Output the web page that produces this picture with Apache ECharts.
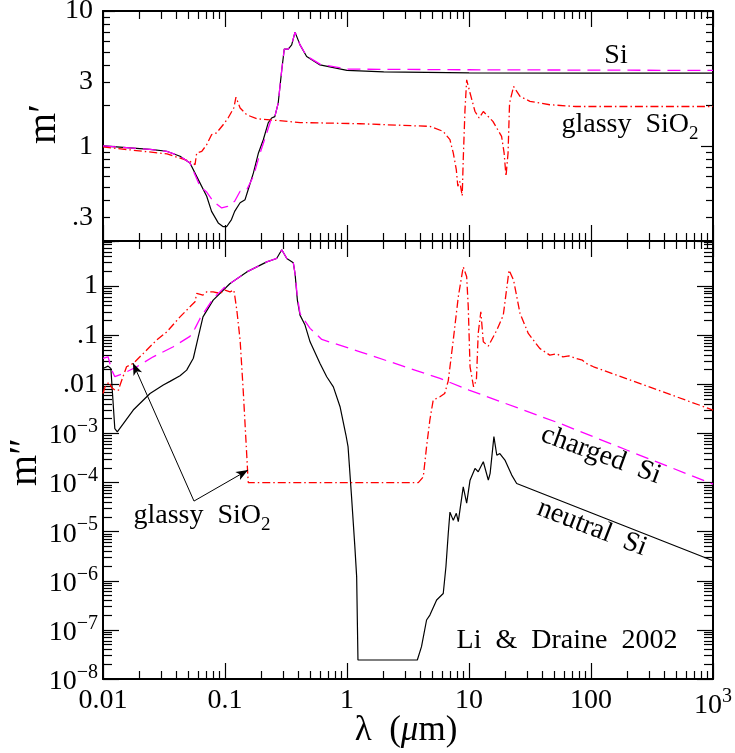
<!DOCTYPE html>
<html>
<head>
<meta charset="utf-8">
<script src="https://cdn.jsdelivr.net/npm/echarts@6/dist/echarts.min.js"></script>
<style>
  html, body { margin: 0; padding: 0; background: #fff; }
  #chart { width: 735px; height: 753px; }
</style>
</head>
<body>
<div id="chart"></div>
<script>
// ---- data: [lambda (um), value] ----
// upper panel: real part m'
var neutralSiRe = [[0.01,1.01],[0.0243,0.95],[0.0333,0.92],[0.0428,0.845],[0.0516,0.754],[0.0604,0.568],[0.0708,0.428],[0.0776,0.331],[0.088,0.272],[0.0967,0.255],[0.103,0.255],[0.113,0.288],[0.12,0.331],[0.133,0.383],[0.146,0.404],[0.155,0.48],[0.171,0.637],[0.188,0.894],[0.206,1.12],[0.226,1.49],[0.241,1.62],[0.256,1.66],[0.273,2.09],[0.292,3.68],[0.306,5.23],[0.33,5.23],[0.352,5.62],[0.375,6.98],[0.412,5.62],[0.467,4.61],[0.601,4.0],[1.0,3.64],[2,3.55],[10,3.49],[100,3.48],[1000,3.48]];
var chargedSiRe = [[0.01,1.01],[0.0243,0.95],[0.0333,0.92],[0.0428,0.845],[0.0516,0.754],[0.0624,0.507],[0.0708,0.46],[0.08,0.393],[0.094,0.351],[0.105,0.36],[0.12,0.393],[0.133,0.466],[0.151,0.48],[0.171,0.601],[0.194,0.894],[0.22,1.256],[0.241,1.62],[0.256,1.66],[0.273,2.09],[0.292,3.68],[0.306,5.23],[0.33,5.23],[0.352,5.62],[0.375,6.98],[0.412,5.62],[0.467,4.65],[0.601,4.05],[1.0,3.72],[10,3.68],[1000,3.64]];
var glassRe = [[0.01,0.99],[0.0335,0.88],[0.0516,0.775],[0.0568,0.733],[0.0586,0.894],[0.0645,0.918],[0.0708,1.03],[0.0776,1.22],[0.085,1.256],[0.097,1.45],[0.106,1.62],[0.1136,1.81],[0.118,1.92],[0.123,2.31],[0.133,1.92],[0.151,1.71],[0.182,1.6],[0.234,1.57],[0.412,1.5],[1.28,1.47],[4.78,1.405],[6.15,1.29],[6.98,1.12],[7.43,0.894],[7.87,0.673],[8.1,0.507],[8.4,0.552],[8.8,0.43],[8.97,0.798],[9.27,1.86],[9.57,3.1],[10.2,2.48],[11.2,1.81],[12.1,1.62],[13.1,1.81],[15.7,1.53],[18.5,1.185],[19.4,0.894],[20.1,0.601],[20.9,0.894],[21.5,2.09],[23.2,2.77],[26.2,2.34],[31.6,2.15],[45.9,2.03],[75,1.97],[1000,1.97]];

// lower panel: imaginary part m''
var neutralSiIm = [[0.01,0.0211],[0.011,0.0235],[0.0116,0.0211],[0.0125,0.00125],[0.0131,0.00108],[0.0177,0.003],[0.0243,0.0065],[0.0312,0.0097],[0.0354,0.0115],[0.0428,0.015],[0.0485,0.0195],[0.055,0.034],[0.0604,0.093],[0.066,0.237],[0.08,0.519],[0.11,1.13],[0.151,1.95],[0.22,3.12],[0.265,3.66],[0.292,5.5],[0.321,3.66],[0.363,2.98],[0.375,1.81],[0.392,0.519],[0.412,0.257],[0.453,0.161],[0.498,0.0735],[0.601,0.0267],[0.682,0.01426],[0.773,0.0089],[0.877,0.0035],[0.98,9.3e-4],[1.02,5.4e-4],[1.09,5.1e-5],[1.16,4.9e-6],[1.2,1.2e-6],[1.23,2.44e-8],[3.77,2.44e-8],[4.08,4.55e-8],[4.49,1.59e-7],[4.78,2.0e-7],[5.43,4.06e-7],[6.15,5.5e-7],[6.47,1.93e-6],[6.76,9.2e-6],[6.98,2.5e-5],[7.43,1.7e-5],[7.87,2.36e-5],[8.17,1.6e-5],[8.97,8.2e-5],[9.57,3.8e-5],[10.2,1.12e-4],[11.2,1.94e-4],[11.9,1.66e-4],[13.1,2.65e-4],[14.4,1.12e-4],[14.9,1.54e-4],[16.0,8.6e-4],[16.9,3.6e-4],[17.9,3.9e-4],[19.7,2.87e-4],[22.4,1.42e-4],[24.6,9.6e-5],[1000,2.56e-6]];
var chargedSiIm = [[0.01,0.0337],[0.011,0.0364],[0.0118,0.0195],[0.0125,0.0143],[0.0147,0.0167],[0.0189,0.0228],[0.0258,0.0364],[0.0377,0.0582],[0.0516,0.095],[0.0568,0.138],[0.0624,0.22],[0.08,0.56],[0.097,0.9],[0.11,1.13],[0.151,1.95],[0.22,3.12],[0.265,3.66],[0.292,5.5],[0.321,3.66],[0.363,2.98],[0.375,1.81],[0.392,0.6],[0.412,0.278],[0.438,0.22],[0.498,0.138],[0.621,0.0822],[1.28,0.046],[5.78,0.0132],[10,0.00764],[55.7,0.0016],[196,4.6e-4],[1000,9.3e-5]];
var glassIm = [[0.01,0.0065],[0.0104,0.0089],[0.0112,0.0112],[0.0118,0.0085],[0.0126,0.0076],[0.0134,0.0076],[0.0138,0.0097],[0.0156,0.0228],[0.0177,0.0267],[0.0214,0.0427],[0.0275,0.0796],[0.0333,0.117],[0.0428,0.237],[0.0516,0.379],[0.0568,0.479],[0.0586,0.71],[0.066,0.656],[0.0708,0.766],[0.08,0.766],[0.091,0.71],[0.1,0.83],[0.11,0.766],[0.118,0.83],[0.12,0.656],[0.125,0.325],[0.133,0.0796],[0.141,0.0076],[0.151,3.36e-4],[0.153,1.8e-4],[0.155,1.0e-4],[3.84,1.0e-4],[4.22,1.31e-4],[4.49,5.4e-4],[4.78,0.0019],[5.09,0.0048],[5.78,0.0056],[6.32,0.0065],[6.76,0.0118],[7.43,0.0796],[8.17,0.605],[8.97,2.47],[9.27,2.68],[9.57,1.55],[9.86,0.379],[10.2,0.0228],[10.9,0.0089],[11.5,0.0122],[11.9,0.109],[12.5,0.3],[13.1,0.0735],[14.4,0.0601],[16.9,0.127],[19.1,0.257],[21.3,2.12],[23.2,1.32],[26.2,0.278],[30.6,0.109],[38.0,0.054],[45.9,0.0394],[52,0.042],[58.8,0.0364],[66,0.038],[75.5,0.0337],[85,0.031],[91.3,0.0267],[105,0.0228],[1000,0.003]];

// annotation arrows ("glassy SiO2" label -> curve), data coords
var arrowFrom = [0.0557, 4.2e-5];
var arrowTips = [[0.0176, 0.0271], [0.1545, 1.8e-4]];

// ---- tick labels ----
var xLabelVals = [0.01, 0.1, 1, 10, 100, 1000];
var xLabels = ['0.01', '0.1', '1', '10', '100', '{b|10}{s|3}'];
var yTopLabelVals = [0.3, 1, 3, 10];
var yTopLabels = ['.3', '1', '3', '10'];
var yBotLabelVals = [1e-8, 1e-7, 1e-6, 1e-5, 1e-4, 1e-3, 0.01, 0.1, 1];
var yBotLabels = ['{b|10}{s|−8}', '{b|10}{s|−7}', '{b|10}{s|−6}', '{b|10}{s|−5}', '{b|10}{s|−4}', '{b|10}{s|−3}', '.01', '.1', '1'];

var FONT = 'Liberation Serif, DejaVu Serif, serif';

function fmt(vals, labels) {
  return function (v) {
    for (var i = 0; i < vals.length; i++) {
      if (Math.abs(Math.log10(v / vals[i])) < 1e-6) return labels[i];
    }
    return '';
  };
}

var richLabel = {
  b: { fontSize: 28, fontFamily: FONT, color: '#000', verticalAlign: 'bottom' },
  s: { fontSize: 20, fontFamily: FONT, color: '#000', verticalAlign: 'bottom', padding: [0, 0, 13, 0] }
};

// one framed side of a panel: decade ticks + minor ticks at 2..9
function axis(grid, pos, range, len, minorLen, label) {
  var a = {
    type: 'log', gridIndex: grid, position: pos,
    min: range[0], max: range[1],
    splitLine: { show: false },
    axisLine: { show: true, onZero: false, lineStyle: { color: '#000', width: 2 } },
    axisTick: { show: true, inside: true, length: len, lineStyle: { color: '#000', width: 1.2 } },
    minorTick: { show: true, splitNumber: 9, length: minorLen, lineStyle: { color: '#000', width: 1.2 } },
    axisLabel: { show: false }
  };
  if (label) {
    a.axisLabel = {
      show: true, customValues: label.vals, formatter: fmt(label.vals, label.text),
      fontSize: 28, fontFamily: FONT, color: '#000', margin: label.margin, rich: richLabel
    };
  }
  return a;
}

var xr = [0.01, 1000], yr0 = [0.2, 10], yr1 = [1e-8, 8.3];
// grids 0/1 carry the data (bottom + left), grids 2/3 sit on top of them for the mirrored top + right ticks
var panelTop = { left: 103, top: 11, width: 610, height: 230, outerBoundsMode: 'none' };
var panelBot = { left: 103, top: 241, width: 610, height: 438, outerBoundsMode: 'none' };
var xAxes = [
  axis(0, 'bottom', xr, 16, 8),
  axis(1, 'bottom', xr, 16, 8, { vals: xLabelVals, text: xLabels, margin: 8 }),
  axis(2, 'top', xr, 16, 8),
  axis(3, 'top', xr, 16, 8)
];
var yAxes = [
  axis(0, 'left', yr0, 12, 7, { vals: yTopLabelVals, text: yTopLabels, margin: 10 }),
  axis(1, 'left', yr1, 16, 9, { vals: yBotLabelVals, text: yBotLabels, margin: 5 }),
  axis(2, 'right', yr0, 12, 7),
  axis(3, 'right', yr1, 16, 9)
];

function line(data, xi, color, width, dash) {
  return {
    type: 'line', data: data, xAxisIndex: xi, yAxisIndex: xi,
    showSymbol: false, symbol: 'none', silent: true,
    lineStyle: { color: color, width: width, type: dash }
  };
}

var neutralBottom = line(neutralSiIm, 1, '#000', 1.2, 'solid');
neutralBottom.markLine = {
  silent: true, symbol: ['none', 'arrow'], symbolSize: [7, 12],
  label: { show: false },
  lineStyle: { color: '#000', width: 1, type: 'solid' },
  data: arrowTips.map(function (t) { return [{ coord: arrowFrom }, { coord: t }]; })
};

var subText = {
  t: { fontSize: 28, fontFamily: FONT, verticalAlign: 'bottom', padding: [0, 0, 5, 0] },
  u: { fontSize: 19, fontFamily: FONT, verticalAlign: 'bottom' }
};

var chart = echarts.init(document.getElementById('chart'));
chart.setOption({
  animation: false,
  backgroundColor: '#fff',
  grid: [panelTop, panelBot, panelTop, panelBot],
  xAxis: xAxes,
  yAxis: yAxes,
  series: [
    line(neutralSiRe, 0, '#000', 1.2, 'solid'),
    line(glassRe, 0, '#ff0000', 1.3, [8, 3, 1.5, 3]),
    line(chargedSiRe, 0, '#ff00ff', 1.3, [13, 7]),
    neutralBottom,
    line(glassIm, 1, '#ff0000', 1.3, [8, 3, 1.5, 3]),
    line(chargedSiIm, 1, '#ff00ff', 1.3, [13, 7])
  ],
  graphic: [
    { type: 'text', x: 44, y: 124, rotation: Math.PI / 2, style: { text: 'm′', font: '40px ' + FONT, fill: '#000', align: 'center', verticalAlign: 'middle' } },
    { type: 'text', x: 25, y: 462, rotation: Math.PI / 2, style: { text: 'm″', font: '40px ' + FONT, fill: '#000', align: 'center', verticalAlign: 'middle' } },
    { type: 'text', x: 406, y: 731, style: { text: '{t|λ  (}{i|μ}{t|m)}', fill: '#000', align: 'center', verticalAlign: 'middle',
        rich: { t: { fontSize: 35, fontFamily: FONT }, i: { fontSize: 35, fontFamily: FONT, fontStyle: 'italic' } } } },
    { type: 'text', x: 616, y: 56, style: { text: 'Si', font: '28px ' + FONT, fill: '#000', align: 'center', verticalAlign: 'middle' } },
    { type: 'text', x: 630, y: 127, style: { text: '{t|glassy  SiO}{u|2}', fill: '#000', align: 'center', verticalAlign: 'middle', rich: subText } },
    { type: 'text', x: 202, y: 518, style: { text: '{t|glassy  SiO}{u|2}', fill: '#000', align: 'center', verticalAlign: 'middle', rich: subText } },
    { type: 'text', x: 601, y: 455, rotation: -0.35, style: { text: 'charged  Si', font: '28px ' + FONT, fill: '#000', align: 'center', verticalAlign: 'middle' } },
    { type: 'text', x: 592, y: 528, rotation: -0.37, style: { text: 'neutral  Si', font: '28px ' + FONT, fill: '#000', align: 'center', verticalAlign: 'middle' } },
    { type: 'text', x: 567, y: 641, style: { text: 'Li  &  Draine  2002', font: '28px ' + FONT, fill: '#000', align: 'center', verticalAlign: 'middle' } }
  ]
});
</script>
</body>
</html>
